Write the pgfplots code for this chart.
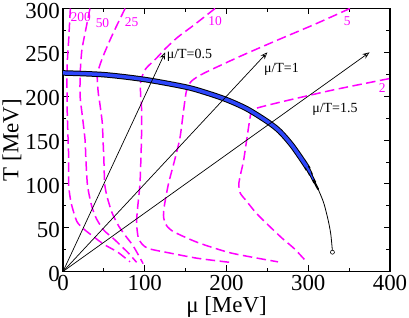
\documentclass[border=0pt]{standalone}
\usepackage{fontspec}
\setmainfont{Liberation Serif}
\usepackage{pgfplots}
\pgfplotsset{compat=1.18}
\usetikzlibrary{arrows.meta}
\definecolor{mag}{RGB}{255,0,255}
\definecolor{bandblue}{RGB}{45,70,250}
\begin{document}
\begin{tikzpicture}
\begin{axis}[
  scale only axis, width=327bp, height=263bp,
  xmin=0, xmax=400, ymin=0, ymax=300,
  xtick={0,100,...,400}, ytick={0,50,...,300},
  minor xtick={50,150,250,350}, minor ytick={25,75,...,275},
  tick align=inside, xtick pos=both, ytick pos=both,
  xticklabel pos=lower, yticklabel pos=left,
  major tick length=6bp, minor tick length=3.5bp,
  every tick/.style={black, line width=0.8bp},
  axis line style={line width=1.2bp},
  /pgf/number format/assume math mode=true,
  ticklabel style={font=\fontsize{23}{27}\selectfont},
  yticklabel style={anchor=east, inner sep=0pt, xshift=-3bp, yshift=-2bp},
  xticklabel style={anchor=north, inner sep=0pt, yshift=-4bp},
  xlabel={μ [MeV]}, ylabel={T [MeV]},
  label style={font=\fontsize{23}{27}\selectfont, inner sep=0pt},
  xlabel style={at={(axis description cs:0.5,-0.155)}, anchor=base},
  ylabel style={at={(axis description cs:-0.1367,0.5)}, anchor=base},
  clip=true,
]
\coordinate (bl) at (rel axis cs:0,0);
\coordinate (tr) at (rel axis cs:1,1);
% magenta dashed curves
\pgfplotsset{magd/.style={mag, line width=1.5bp, dash pattern=on 9.5bp off 4.5bp, smooth, tension=0.4}}
\addplot[magd] coordinates {(9,300) (7,265) (5,233) (5,190) (6,157) (7,128) (7,98) (10,78) (17,57) (26,48) (37,40) (50,31) (67,22) (82,11)};
\addplot[magd] coordinates {(33,300) (27,272) (23,252) (21,225) (21,199) (24,175) (27,150) (28,128) (30,98) (35,75) (41,60) (50,47) (60,39) (68,32) (80,21) (90,10.5)};
\addplot[magd] coordinates {(76,300) (66,281) (57,263) (48,243) (42,225) (43,205) (45,192) (48,170) (49,149) (50,128) (51,100) (54,85) (60,67) (68,52) (77,40) (86,29) (98,9)};
\addplot[magd] coordinates {(186,300) (160,281) (140,267) (125,254) (114,243) (101,231) (95,217) (95,200) (96,189) (96,152) (95,120) (94,98) (91,70) (90,55) (92,39) (97,31) (105,26) (131,21) (165,15) (208,10)};
\addplot[magd] coordinates {(351,300) (308,282) (265,265) (218,246) (172,226) (157,217) (151,206) (147,180) (143,152) (136,125) (129,100) (124,75) (123,62) (127,52) (136,45) (165,33) (206,21) (263,11)};
\addplot[magd] coordinates {(399,220) (330,207) (265,193) (236,186) (230,181) (225,152) (221,127) (217,110) (215,99) (217,89) (223,82) (236,67) (251,53) (268,38) (283,26) (297,12)};
% band (transition line)
\addplot[black, line width=5.5bp, smooth, tension=0.5] coordinates {(0,226.5) (50,224.5) (100,219) (150,210.5) (175,204) (200,196) (225,185.5) (250,171) (265,160) (280,144) (295,124) (300,116.5)};
\addplot[black, line width=4.2bp, line cap=round, smooth, tension=0.5] coordinates {(298,119.5) (300,116.5) (303,111)};
\addplot[black, line width=3bp, line cap=round, smooth, tension=0.5] coordinates {(302,113) (305,107) (308,101.5)};
\addplot[black, line width=2bp, line cap=round, smooth, tension=0.5] coordinates {(306,105) (309,99.5) (312,94)};
\addplot[bandblue, line width=3.5bp, smooth, tension=0.5] coordinates {(0,226.5) (50,224.5) (100,219) (150,210.5) (175,204) (200,196) (225,185.5) (250,171) (265,160) (280,144) (295,124) (298,119.5)};
\addplot[bandblue, line width=2.2bp, line cap=round, smooth, tension=0.5] coordinates {(297,121) (300,116.5) (302,113)};
\addplot[bandblue, line width=1.2bp, line cap=round, smooth, tension=0.5] coordinates {(301,114.5) (304,109) (306,105)};
\addplot[black, line width=0.8bp, smooth, tension=0.5] coordinates {(309,99.5) (313,92) (319,78) (324,60) (327.5,43) (329.5,24)};
\addplot[only marks, mark=o, mark size=2bp, black, mark options={line width=0.6bp}] coordinates {(329.6,22)};
% arrows
\addplot[black, line width=0.7bp, -{Stealth[length=7bp,width=5.5bp,open]}] coordinates {(0,0) (125,250)};
\addplot[black, line width=0.7bp, -{Stealth[length=7bp,width=5.5bp,open]}] coordinates {(0,0) (250,250)};
\addplot[black, line width=0.7bp, -{Stealth[length=7bp,width=5.5bp,open]}] coordinates {(0,0) (375,250)};
% labels
\node[anchor=base west, inner sep=0pt, font=\fontsize{14}{16}\selectfont] at (axis cs:126.8,243.2) {μ/T=0.5};
\node[anchor=base west, inner sep=0pt, font=\fontsize{14}{16}\selectfont] at (axis cs:245.7,226.8) {μ/T=1};
\node[anchor=base west, inner sep=0pt, font=\fontsize{14}{16}\selectfont] at (axis cs:304.8,181.6) {μ/T=1.5};
\node[mag, inner sep=0pt, font=\fontsize{13.5}{15}\selectfont] at (axis cs:21.6,290) {200};
\node[mag, inner sep=0pt, font=\fontsize{13.5}{15}\selectfont] at (axis cs:48.3,283) {50};
\node[mag, inner sep=0pt, font=\fontsize{13.5}{15}\selectfont] at (axis cs:84,284) {25};
\node[mag, inner sep=0pt, font=\fontsize{13.5}{15}\selectfont] at (axis cs:186,286) {10};
\node[mag, inner sep=0pt, font=\fontsize{13.5}{15}\selectfont] at (axis cs:347.6,286) {5};
\node[mag, inner sep=0pt, font=\fontsize{13.5}{15}\selectfont] at (axis cs:390.4,209) {2};
\end{axis}
\pgfresetboundingbox
\path ([shift={(-63bp,-46.5bp)}]bl) rectangle ([shift={(19bp,8.5bp)}]tr);
\end{tikzpicture}
\end{document}
